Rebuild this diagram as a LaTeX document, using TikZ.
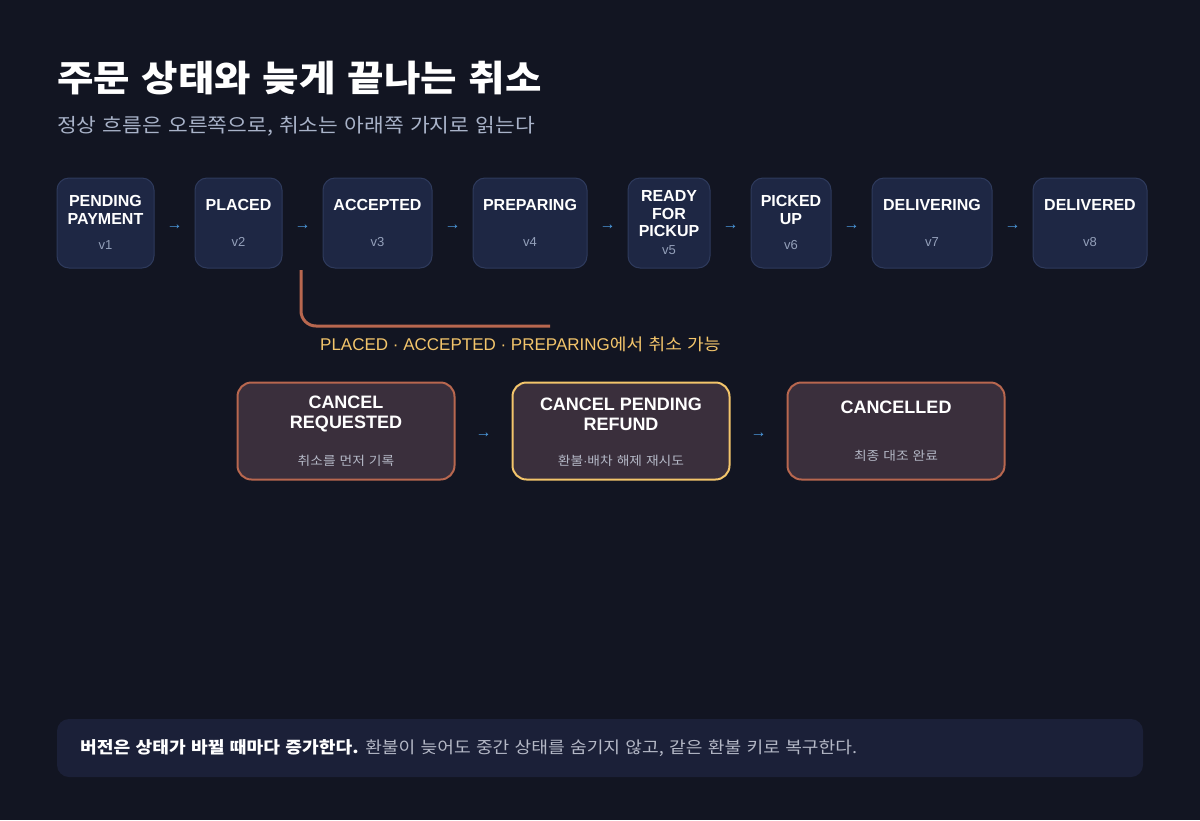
\documentclass[tikz,border=0pt]{standalone}
\usepackage{fontspec}
\setmainfont{Liberation Sans}
\newfontfamily\kr[FakeStretch=1.1,WordSpace=1.3]{Noto Sans CJK KR}
\usetikzlibrary{positioning}

\definecolor{bgdark}{HTML}{121522}
\definecolor{statefill}{HTML}{1E2744}
\definecolor{statedraw}{HTML}{2E3A5C}
\definecolor{cancelfill}{HTML}{3A2F3C}
\definecolor{cancelorange}{HTML}{B8674F}
\definecolor{goldline}{HTML}{F3C56B}
\definecolor{arrowblue}{HTML}{4C9BE0}
\definecolor{vergray}{HTML}{94A0BA}
\definecolor{subgray}{HTML}{A9B3C9}
\definecolor{notegray}{HTML}{B4B8C6}
\definecolor{footfill}{HTML}{1B2038}

\begin{document}
\begin{tikzpicture}[x=1pt, y=-1pt, node distance=40pt,
    state node/.style={rectangle,rounded corners=12pt,draw=statedraw,fill=statefill,line width=1pt,minimum height=90pt,inner sep=0pt},
    cancel node/.style={rectangle,rounded corners=14pt,draw=cancelorange,fill=cancelfill,line width=2pt,minimum width=217pt,minimum height=97pt,inner sep=0pt},
    state title/.style={text=white,font=\fontsize{16}{17.5}\selectfont\bfseries,align=center,inner sep=0pt},
    cancel title/.style={text=white,font=\fontsize{18}{20}\selectfont\bfseries,align=center,inner sep=0pt},
    ver/.style={text=vergray,font=\fontsize{13}{15}\selectfont,inner sep=0pt},
    cancel sub/.style={text=notegray,font=\kr\fontsize{12.5}{15}\selectfont,inner sep=0pt},
    flow/.style={text=arrowblue,font=\fontsize{16}{16}\selectfont,inner sep=0pt,yshift=-4pt}]

  \useasboundingbox (0,0) rectangle (1200,820);
  \fill[bgdark] (0,0) rectangle (1200,820);

  \node[anchor=west,inner sep=0pt,text=white,font=\kr\bfseries\fontsize{36}{40}\selectfont] (heading) at (57,78) {주문 상태와 늦게 끝나는 취소};
  \node[anchor=west,inner sep=0pt,text=subgray,font=\kr\fontsize{19.5}{24}\selectfont] (subheading) at (57,126) {정상 흐름은 오른쪽으로, 취소는 아래쪽 가지로 읽는다};

  % main flow
  \node[state node,minimum width=97pt] (pending) at (105.5,223) {};
  \node[state node,minimum width=87pt] (placed) [right=of pending] {};
  \node[state node,minimum width=109pt] (accepted) [right=of placed] {};
  \node[state node,minimum width=114pt] (preparing) [right=of accepted] {};
  \node[state node,minimum width=82pt] (ready) [right=of preparing] {};
  \node[state node,minimum width=80pt] (picked) [right=of ready] {};
  \node[state node,minimum width=120pt] (delivering) [right=of picked] {};
  \node[state node,minimum width=114pt] (delivered) [right=of delivering] {};

  \node[state title] (pendingT) at ([yshift=13pt]pending.center) {PENDING\\PAYMENT};
  \node[ver] (pendingV) at ([yshift=-22pt]pending.center) {v1};
  \node[state title] (placedT) at ([yshift=18pt]placed.center) {PLACED};
  \node[ver] (placedV) at ([yshift=-19pt]placed.center) {v2};
  \node[state title] (acceptedT) at ([yshift=18pt]accepted.center) {ACCEPTED};
  \node[ver] (acceptedV) at ([yshift=-19pt]accepted.center) {v3};
  \node[state title] (preparingT) at ([yshift=18pt]preparing.center) {PREPARING};
  \node[ver] (preparingV) at ([yshift=-19pt]preparing.center) {v4};
  \node[state title] (readyT) at ([yshift=9pt]ready.center) {READY\\FOR\\PICKUP};
  \node[ver] (readyV) at ([yshift=-27pt]ready.center) {v5};
  \node[state title] (pickedT) at ([yshift=13pt]picked.center) {PICKED\\UP};
  \node[ver] (pickedV) at ([yshift=-22pt]picked.center) {v6};
  \node[state title] (deliveringT) at ([yshift=18pt]delivering.center) {DELIVERING};
  \node[ver] (deliveringV) at ([yshift=-19pt]delivering.center) {v7};
  \node[state title] (deliveredT) at ([yshift=18pt]delivered.center) {DELIVERED};
  \node[ver] (deliveredV) at ([yshift=-19pt]delivered.center) {v8};

  \path
    (pending) -- node[flow] {→} (placed)
    (placed) -- node[flow] {→} (accepted)
    (accepted) -- node[flow] {→} (preparing)
    (preparing) -- node[flow] {→} (ready)
    (ready) -- node[flow] {→} (picked)
    (picked) -- node[flow] {→} (delivering)
    (delivering) -- node[flow] {→} (delivered);

  % cancel branch
  \coordinate (branchtop) at (301,270);
  \coordinate (branchend) at (550,326);
  \draw[cancelorange,line width=3pt,rounded corners=15pt] (branchtop) |- (branchend);
  \node[anchor=west,inner sep=0pt,text=goldline,font=\fontsize{17}{18}\selectfont] (cancelnote) at (320,344) {PLACED · ACCEPTED · PREPARING{\kr\fontsize{16.5}{18}\selectfont 에서 취소 가능}};

  \node[cancel node] (requested) at (346,431) {};
  \node[cancel node,draw=goldline] (refund) [right=56pt of requested] {};
  \node[cancel node] (cancelled) [right=56pt of refund] {};

  \node[cancel title] (requestedT) at ([yshift=17pt]requested.center) {CANCEL\\REQUESTED};
  \node[cancel sub] (requestedS) at ([yshift=-30pt]requested.center) {취소를 먼저 기록};
  \node[cancel title] (refundT) at ([yshift=17pt]refund.center) {CANCEL PENDING\\REFUND};
  \node[cancel sub] (refundS) at ([yshift=-30pt]refund.center) {환불{\rmfamily ·}배차 해제 재시도};
  \node[cancel title] (cancelledT) at ([yshift=24pt]cancelled.center) {CANCELLED};
  \node[cancel sub] (cancelledS) at ([yshift=-25pt]cancelled.center) {최종 대조 완료};

  \path
    (requested) -- node[flow] {→} (refund)
    (refund) -- node[flow] {→} (cancelled);

  % footer
  \node[rectangle,rounded corners=12pt,fill=footfill,minimum width=1086pt,minimum height=58pt,inner sep=0pt] (footbox) at (600,748) {};
  \node[anchor=west,inner sep=0pt,text=notegray,font=\kr\fontsize{16.5}{19}\selectfont] (foottext) at (80,748) {{\bfseries\color{white}버전은 상태가 바뀔 때마다 증가한다.} 환불이 늦어도 중간 상태를 숨기지 않고, 같은 환불 키로 복구한다.};

\end{tikzpicture}
\end{document}
